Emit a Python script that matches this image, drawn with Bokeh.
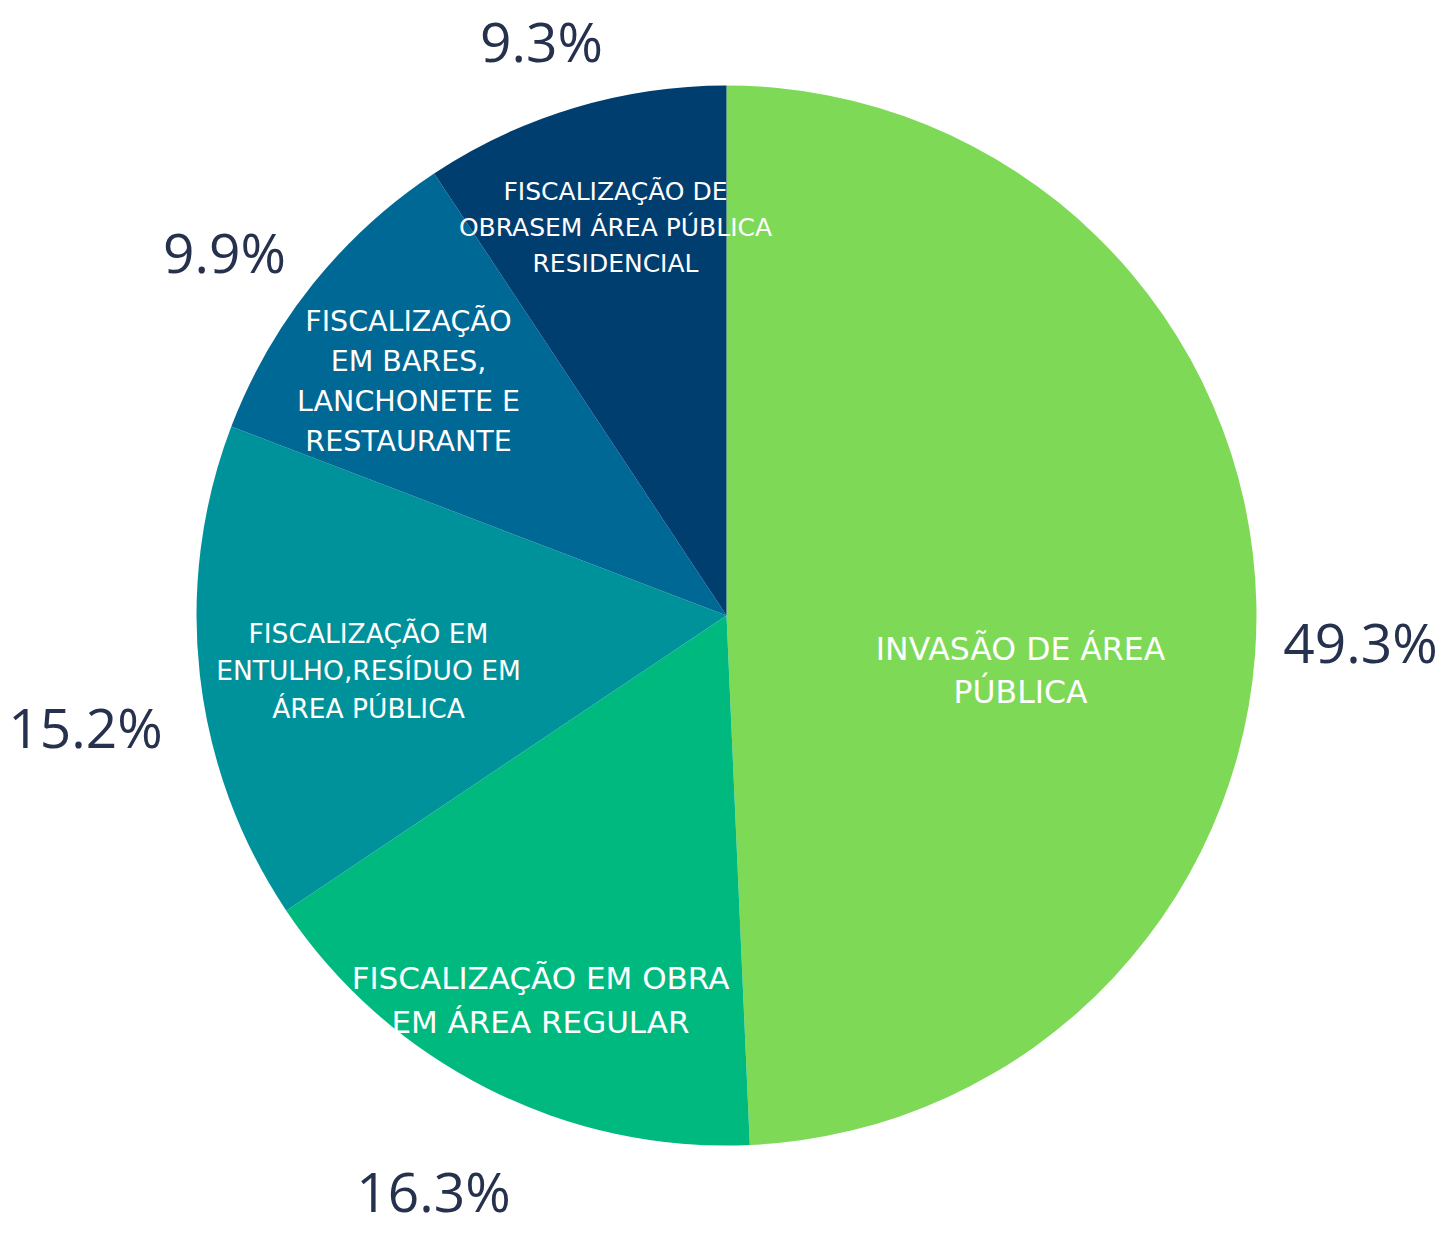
from math import pi
from bokeh.plotting import figure
from bokeh.models import Range1d, ColumnDataSource
from bokeh.core.properties import value
from bokeh.embed import file_html
from bokeh.resources import INLINE

# ---- data ----
categories = [
    "INVASÃO DE ÁREA PÚBLICA",
    "FISCALIZAÇÃO EM OBRA EM ÁREA REGULAR",
    "FISCALIZAÇÃO EM ENTULHO,RESÍDUO EM ÁREA PÚBLICA",
    "FISCALIZAÇÃO EM BARES, LANCHONETE E RESTAURANTE",
    "FISCALIZAÇÃO DE OBRASEM ÁREA PÚBLICA RESIDENCIAL",
]
shares = [49.3, 16.3, 15.2, 9.9, 9.3]
pct_labels = ["49.3%", "16.3%", "15.2%", "9.9%", "9.3%"]
colors = ["#7ED957", "#00B97E", "#00929A", "#006895", "#003E6F"]

# ---- layout (screen pixel coordinates) ----
FW, FH = 1438, 1231
TOP = 1247
CX, CY, R = 726, 615, 530

cat_lines = [
    ["INVASÃO DE ÁREA", "PÚBLICA"],
    ["FISCALIZAÇÃO EM OBRA", "EM ÁREA REGULAR"],
    ["FISCALIZAÇÃO EM", "ENTULHO,RESÍDUO EM", "ÁREA PÚBLICA"],
    ["FISCALIZAÇÃO", "EM BARES,", "LANCHONETE E", "RESTAURANTE"],
    ["FISCALIZAÇÃO DE", "OBRASEM ÁREA PÚBLICA", "RESIDENCIAL"],
]
cat_pos = [(1020, 670), (540, 999), (368, 670), (408, 381), (615, 227)]
cat_size = [31.5, 31, 26.5, 28.5, 25]
cat_gap = [43, 44, 37.5, 40, 36]
pct_pos = [(1360, 641), (433, 1190), (85, 726), (224, 251), (541, 40)]

def dy(y):
    return TOP - y

p = figure(width=FW, height=FH,
           x_range=Range1d(0, FW), y_range=Range1d(TOP - FH, TOP),
           output_backend="svg", toolbar_location=None, min_border=0)
p.axis.visible = False
p.grid.visible = False
p.outline_line_color = None
p.background_fill_color = "white"
p.border_fill_color = "white"

total = sum(shares)
starts, ends = [], []
cum = 0.0
for s in shares:
    starts.append(pi / 2 - 2 * pi * cum / total)
    cum += s
    ends.append(pi / 2 - 2 * pi * cum / total)

src = ColumnDataSource(dict(x=[CX] * len(shares), y=[dy(CY)] * len(shares),
                            start=starts, end=ends, color=colors))
p.wedge(x="x", y="y", radius=R, radius_units="data", start_angle="start",
        end_angle="end", direction="clock", fill_color="color",
        line_color=None, source=src)

for lines, (x, y), fs, gap in zip(cat_lines, cat_pos, cat_size, cat_gap):
    n = len(lines)
    ys = [dy(y + (i - (n - 1) / 2) * gap) for i in range(n)]
    p.text(x=[x] * n, y=ys, text=lines, text_color="white",
           text_font=value("DejaVu Sans"), text_font_size=f"{fs}px",
           text_align="center", text_baseline="middle")

for lab, (x, y) in zip(pct_labels, pct_pos):
    p.text(x=[x], y=[dy(y)], text=[lab], text_color="#26314D",
           text_font=value("Open Sans"), text_font_size="55px",
           text_align="center", text_baseline="middle")

open("out.html", "w").write(file_html(p, INLINE))
